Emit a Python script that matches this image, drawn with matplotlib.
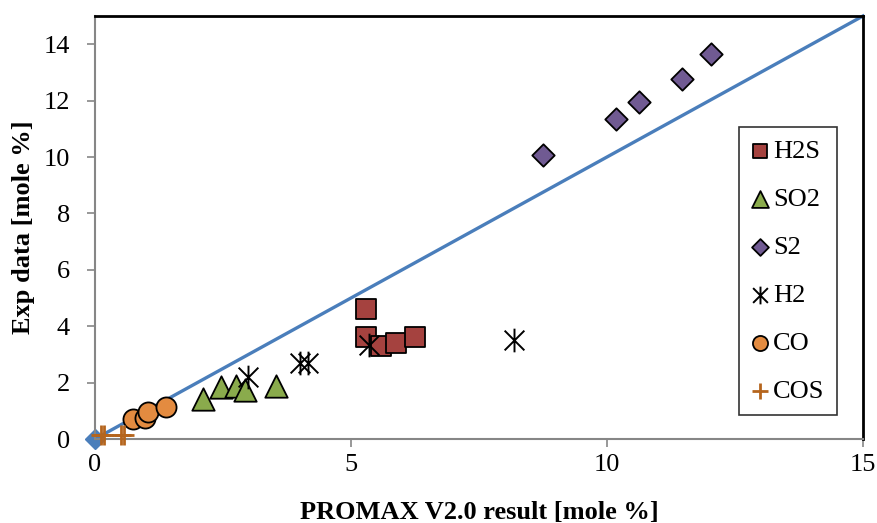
import matplotlib.pyplot as plt
from matplotlib.path import Path

# datos
h2s_x = [5.29, 5.29, 5.58, 5.87, 6.26]
h2s_y = [4.62, 3.62, 3.30, 3.41, 3.62]

so2_x = [2.11, 2.47, 2.76, 2.93, 3.53]
so2_y = [1.43, 1.84, 1.88, 1.74, 1.88]

s2_x = [8.76, 10.17, 10.63, 11.47, 12.03]
s2_y = [10.06, 11.33, 11.96, 12.75, 13.67]

h2_x = [2.99, 4.00, 4.16, 5.36, 8.18]
h2_y = [2.19, 2.71, 2.69, 3.34, 3.52]

co_x = [0.75, 0.98, 1.04, 1.38]
co_y = [0.72, 0.75, 0.95, 1.12]

cos_x = [0.12, 0.18, 0.50, 0.56]
cos_y = [0.13, 0.13, 0.13, 0.13]

linea_x = [0, 15]
linea_y = [0, 15]

plt.rcParams['font.family'] = ['Liberation Serif', 'DejaVu Serif']

fig = plt.figure(figsize=(8.77, 5.23), dpi=100)
ax = fig.add_axes([0.1083, 0.1606, 0.8757, 0.8088])

# marcador tipo estrella de Excel (X con línea vertical)
estrella = Path([(-1, -1), (1, 1), (-1, 1), (1, -1), (0, -1.2), (0, 1.2)],
                [Path.MOVETO, Path.LINETO, Path.MOVETO, Path.LINETO, Path.MOVETO, Path.LINETO])

ax.plot(linea_x, linea_y, color='#4A7EBB', lw=2.4, marker='D', ms=10,
        markevery=[0], mec='#4A7EBB', clip_on=False, zorder=2)

ax.scatter(h2s_x, h2s_y, marker='s', s=190, c='#A5423F', edgecolors='black',
           linewidths=1.3, label='H2S', zorder=3, clip_on=False)
ax.scatter(so2_x, so2_y, marker='^', s=260, c='#8AAB4C', edgecolors='black',
           linewidths=1.3, label='SO2', zorder=3, clip_on=False)
ax.scatter(s2_x, s2_y, marker='D', s=130, c='#705A92', edgecolors='black',
           linewidths=1.3, label='S2', zorder=3, clip_on=False)
ax.scatter(h2_x, h2_y, marker=estrella, s=290, c='black',
           linewidths=1.4, label='H2', zorder=4, clip_on=False)
ax.scatter(co_x, co_y, marker='o', s=210, c='#E38B40', edgecolors='black',
           linewidths=1.3, label='CO', zorder=3, clip_on=False)
ax.scatter(cos_x, cos_y, marker='+', s=220, c='#B5651D',
           linewidths=2.0, label='COS', zorder=3, clip_on=False)

ax.set_xlim(0, 15)
ax.set_ylim(0, 15)
ax.set_xticks([0, 5, 10, 15])
ax.set_yticks(range(0, 15, 2))

for s in ['left', 'bottom']:
    ax.spines[s].set_color('#868686')
    ax.spines[s].set_linewidth(1.5)
for s in ['top', 'right']:
    ax.spines[s].set_color('black')
    ax.spines[s].set_linewidth(2)

ax.tick_params(axis='both', direction='out', length=6, width=1.2, color='#868686',
               labelsize=19)
ax.tick_params(axis='y', pad=12)
ax.tick_params(axis='x', pad=5)

ax.set_xlabel('PROMAX V2.0 result [mole %]', fontsize=19, fontweight='bold', labelpad=18)
ax.set_ylabel('Exp data [mole %]', fontsize=19, fontweight='bold', labelpad=6)

leg = ax.legend(loc='upper left', bbox_to_anchor=(0.8386, 0.737, 0.117, 0.0),
                fontsize=19, labelspacing=0.93, handletextpad=0.15, handlelength=0.7,
                borderpad=0.45, borderaxespad=0, frameon=True, fancybox=False,
                scatterpoints=1, markerscale=0.75)
leg.get_frame().set_edgecolor('black')
leg.get_frame().set_linewidth(1.2)

plt.savefig('out.png', dpi=100)
plt.close()
